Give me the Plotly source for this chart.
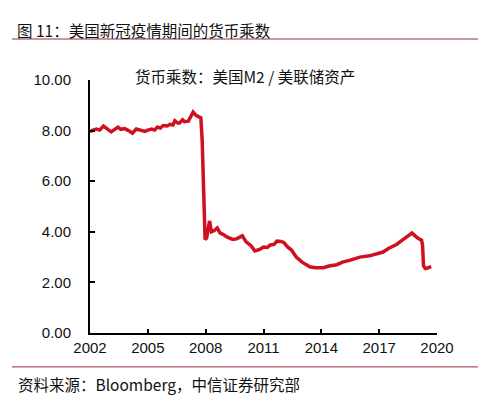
import plotly.graph_objects as go

# 货币乘数：美国M2 / 美联储资产
years = [2002.0, 2002.15, 2002.35, 2002.5, 2002.7, 2002.9, 2003.1, 2003.3, 2003.45,
         2003.6, 2003.8, 2004.0, 2004.2, 2004.4, 2004.6, 2004.85, 2005.0, 2005.2,
         2005.35, 2005.5, 2005.65, 2005.8, 2006.0, 2006.15, 2006.3, 2006.4, 2006.55,
         2006.65, 2006.8, 2006.9, 2007.1, 2007.25, 2007.35, 2007.5, 2007.65, 2007.75,
         2007.82, 2007.87, 2007.92, 2007.97, 2008.05, 2008.2, 2008.3, 2008.45, 2008.6,
         2008.75, 2008.9, 2009.1, 2009.4, 2009.6, 2009.9, 2010.1, 2010.35, 2010.55,
         2010.8, 2011.0, 2011.2, 2011.35, 2011.55, 2011.7, 2011.9, 2012.05, 2012.25,
         2012.45, 2012.7, 2013.0, 2013.4, 2013.7, 2014.1, 2014.4, 2014.8, 2015.1,
         2015.5, 2016.0, 2016.5, 2016.9, 2017.2, 2017.5, 2017.9, 2018.2, 2018.5,
         2018.7, 2018.85, 2019.0, 2019.2, 2019.25, 2019.3, 2019.4, 2019.5, 2019.7]
multiplier = [7.95, 8.02, 8.06, 8.02, 8.18, 8.08, 7.95, 8.06, 8.14,
              8.05, 8.08, 8.0, 7.9, 8.06, 8.02, 7.97, 8.02, 8.06,
              8.02, 8.14, 8.1, 8.2, 8.18, 8.25, 8.22, 8.39, 8.3,
              8.3, 8.43, 8.35, 8.37, 8.55, 8.73, 8.6, 8.53, 8.5,
              7.6, 6.0, 4.6, 3.7, 3.75, 4.43, 4.0, 4.05, 4.15,
              3.95, 3.9, 3.8, 3.7, 3.72, 3.84, 3.6, 3.45, 3.24,
              3.3, 3.4, 3.38, 3.48, 3.5, 3.63, 3.62, 3.58, 3.4,
              3.28, 3.0, 2.8, 2.62, 2.58, 2.58, 2.65, 2.7, 2.8,
              2.88, 3.0, 3.05, 3.12, 3.2, 3.35, 3.5, 3.67, 3.82,
              3.95, 3.85, 3.75, 3.67, 3.48, 2.65, 2.55, 2.57, 2.62]

x_ticks = [2002, 2005, 2008, 2011, 2014, 2017, 2020]
y_ticks = [0, 2, 4, 6, 8, 10]

FONT = "Liberation Sans, Arial, Noto Sans CJK SC"
CJK = "Noto Sans CJK SC, Liberation Sans"
RULE = "#9e2a35"

fig = go.Figure()
fig.add_trace(go.Scatter(
    x=years, y=multiplier, mode="lines",
    line=dict(color="#d0101f", width=3.5),
    cliponaxis=False, showlegend=False,
))

# the page body adds an 8px offset, so margins are shifted to compensate
fig.update_layout(
    width=498, height=414,
    margin=dict(l=82, r=69, t=72, b=89),
    paper_bgcolor="white", plot_bgcolor="white",
    font=dict(family=FONT, size=15, color="#111111"),
    xaxis=dict(
        range=[2002, 2020], tickvals=x_ticks, ticktext=[str(t) for t in x_ticks],
        showgrid=False, zeroline=False, showline=True, linecolor="black", linewidth=2,
        ticks="inside", ticklen=4, tickcolor="black", tickwidth=1.5,
        tickfont=dict(size=15),
    ),
    yaxis=dict(
        range=[0, 10], tickvals=y_ticks, ticktext=["%.2f" % t for t in y_ticks],
        showgrid=False, zeroline=False, showline=True, linecolor="black", linewidth=2,
        ticks="inside", ticklen=5, tickcolor="black", tickwidth=1.5,
        tickfont=dict(size=15), ticklabelstandoff=14,
    ),
    annotations=[
        dict(text="图 11：美国新冠疫情期间的货币乘数", xref="paper", yref="paper",
             x=-0.216, y=1.198, xanchor="left", yanchor="middle", showarrow=False,
             font=dict(size=15.5, family=CJK)),
        dict(text="货币乘数：美国M2 / 美联储资产", xref="paper", yref="paper",
             x=0.124, y=1.016, xanchor="left", yanchor="middle", showarrow=False,
             font=dict(size=15.5, family=CJK)),
        dict(text="资料来源：Bloomberg，中信证券研究部", xref="paper", yref="paper",
             x=-0.213, y=-0.2016, xanchor="left", yanchor="middle", showarrow=False,
             font=dict(size=15.5, family=CJK)),
    ],
    shapes=[
        dict(type="line", xref="paper", yref="paper", x0=-0.2248, x1=1.118,
             y0=1.162, y1=1.162, line=dict(color=RULE, width=1)),
        dict(type="line", xref="paper", yref="paper", x0=-0.2248, x1=1.118,
             y0=-0.134, y1=-0.134, line=dict(color=RULE, width=1)),
    ],
)

fig.write_html("out.html")
